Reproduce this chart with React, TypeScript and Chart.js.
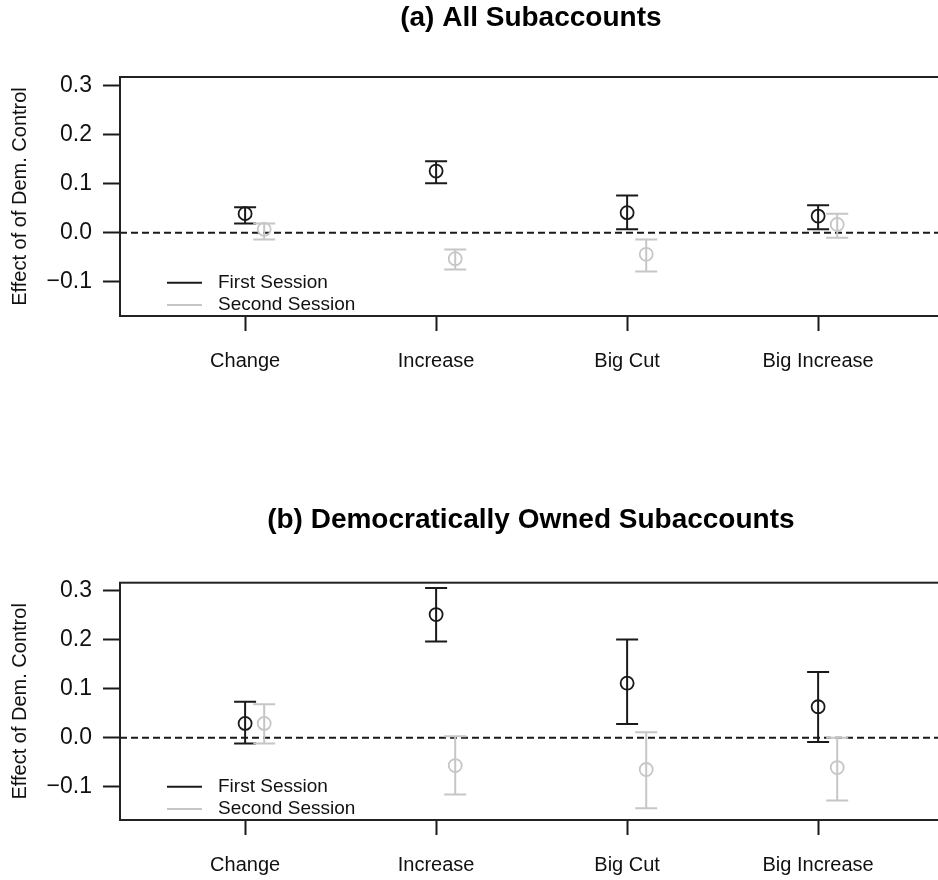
import React, { useEffect, useRef } from "react";
import { Chart, registerables } from "chart.js";

Chart.register(...registerables);

// ---------- data ----------
const categories = ["Change", "Increase", "Big Cut", "Big Increase"];
const yTickValues = [-0.1, 0, 0.1, 0.2, 0.3];
const seriesNames = ["First Session", "Second Session"];

// (a) All Subaccounts
const aFirstEst = [0.039, 0.126, 0.041, 0.034];
const aFirstLo = [0.019, 0.101, 0.007, 0.007];
const aFirstHi = [0.052, 0.146, 0.076, 0.056];
const aSecondEst = [0.007, -0.053, -0.044, 0.017];
const aSecondLo = [-0.014, -0.075, -0.079, -0.01];
const aSecondHi = [0.019, -0.034, -0.014, 0.039];

// (b) Democratically Owned Subaccounts
const bFirstEst = [0.029, 0.251, 0.111, 0.063];
const bFirstLo = [-0.012, 0.196, 0.028, -0.009];
const bFirstHi = [0.073, 0.305, 0.2, 0.134];
const bSecondEst = [0.029, -0.057, -0.065, -0.061];
const bSecondLo = [-0.012, -0.116, -0.144, -0.128];
const bSecondHi = [0.068, 0.003, 0.011, 0.0];

// ---------- styles ----------
const FONT = "'Liberation Sans', Arial, Helvetica, sans-serif";
const DARK = "#1a1a1a";
const LIGHT = "#c6c6c6";
const TEXT = "#111111";
const SECOND_OFFSET = 0.1;
const CANVAS_W = 950;
const CANVAS_H = 440;

const fmt = (v: number) => {
  const s = Number(v).toFixed(1);
  return s.startsWith("-") ? "\u2212" + s.slice(1) : s;
};

const errorBarPlugin = {
  id: "errorBars",
  beforeDatasetsDraw(chart: any) {
    const { ctx, chartArea, scales } = chart;
    const y0 = scales.y.getPixelForValue(0);
    ctx.save();
    ctx.strokeStyle = DARK;
    ctx.lineWidth = 2;
    ctx.setLineDash([7, 4]);
    ctx.beginPath();
    ctx.moveTo(chartArea.left, y0);
    ctx.lineTo(chartArea.right, y0);
    ctx.stroke();
    ctx.restore();
  },
  afterDatasetsDraw(chart: any) {
    const { ctx, chartArea, scales } = chart;
    ctx.save();
    chart.data.datasets.forEach((ds: any, di: number) => {
      const meta = chart.getDatasetMeta(di);
      ctx.strokeStyle = ds.borderColor;
      ctx.lineWidth = 2;
      ctx.setLineDash([]);
      meta.data.forEach((pt: any, i: number) => {
        const x = pt.x;
        const yl = scales.y.getPixelForValue(ds.errLo[i]);
        const yh = scales.y.getPixelForValue(ds.errHi[i]);
        ctx.beginPath();
        ctx.moveTo(x, yl);
        ctx.lineTo(x, yh);
        ctx.moveTo(x - 11, yl);
        ctx.lineTo(x + 11, yl);
        ctx.moveTo(x - 11, yh);
        ctx.lineTo(x + 11, yh);
        ctx.stroke();
      });
    });
    // legend inside the plot (bottom-left)
    chart.data.datasets.forEach((ds: any, di: number) => {
      const ly = chartArea.bottom - 33.3 + di * 22.3;
      ctx.strokeStyle = ds.borderColor;
      ctx.lineWidth = 2;
      ctx.beginPath();
      ctx.moveTo(chartArea.left + 47, ly);
      ctx.lineTo(chartArea.left + 82, ly);
      ctx.stroke();
      ctx.fillStyle = TEXT;
      ctx.font = `19px ${FONT}`;
      ctx.textAlign = "left";
      ctx.textBaseline = "middle";
      ctx.fillText(ds.label, chartArea.left + 98, ly);
    });
    // plot box
    ctx.strokeStyle = "#222222";
    ctx.lineWidth = 2;
    ctx.strokeRect(
      chartArea.left,
      chartArea.top,
      chartArea.right - chartArea.left,
      chartArea.bottom - chartArea.top
    );
    ctx.restore();
  },
};

type PanelCfg = {
  title: string;
  yTitle: string;
  firstEst: number[];
  firstLo: number[];
  firstHi: number[];
  secondEst: number[];
  secondLo: number[];
  secondHi: number[];
  yMin: number;
  yMax: number;
  titlePadTop: number;
  titlePadBottom: number;
  layoutBottom: number;
};

const panelA: PanelCfg = {
  title: "(a) All Subaccounts",
  yTitle: "Effect of of Dem. Control",
  firstEst: aFirstEst,
  firstLo: aFirstLo,
  firstHi: aFirstHi,
  secondEst: aSecondEst,
  secondLo: aSecondLo,
  secondHi: aSecondHi,
  yMin: -0.17,
  yMax: 0.318,
  titlePadTop: 1.8,
  titlePadBottom: 41.6,
  layoutBottom: 64,
};

const panelB: PanelCfg = {
  title: "(b) Democratically Owned Subaccounts",
  yTitle: "Effect of Dem. Control",
  firstEst: bFirstEst,
  firstLo: bFirstLo,
  firstHi: bFirstHi,
  secondEst: bSecondEst,
  secondLo: bSecondLo,
  secondHi: bSecondHi,
  yMin: -0.168,
  yMax: 0.316,
  titlePadTop: 63.5,
  titlePadBottom: 45.6,
  layoutBottom: 0,
};

function Panel({ cfg, top }: { cfg: PanelCfg; top: number }) {
  const ref = useRef<HTMLCanvasElement>(null);
  useEffect(() => {
    if (!ref.current) return;
    const chart = new Chart(ref.current, {
      type: "scatter",
      data: {
        datasets: [
          {
            label: seriesNames[0],
            data: categories.map((_, i) => ({ x: i + 1, y: cfg.firstEst[i] })),
            errLo: cfg.firstLo,
            errHi: cfg.firstHi,
            borderColor: DARK,
            backgroundColor: "rgba(0,0,0,0)",
            pointRadius: 6.5,
            pointBorderWidth: 1.8,
            pointStyle: "circle",
          } as any,
          {
            label: seriesNames[1],
            data: categories.map((_, i) => ({ x: i + 1 + SECOND_OFFSET, y: cfg.secondEst[i] })),
            errLo: cfg.secondLo,
            errHi: cfg.secondHi,
            borderColor: LIGHT,
            backgroundColor: "rgba(0,0,0,0)",
            pointRadius: 6.5,
            pointBorderWidth: 1.8,
            pointStyle: "circle",
          } as any,
        ],
      },
      options: {
        responsive: false,
        animation: false,
        devicePixelRatio: 1,
        layout: { padding: { top: 0, left: 0, right: 4, bottom: cfg.layoutBottom } },
        plugins: {
          legend: { display: false },
          tooltip: { enabled: false },
          title: {
            display: true,
            text: cfg.title,
            fullSize: false,
            color: "#000",
            font: { family: FONT, size: 28, weight: "bold", lineHeight: 1.2 },
            padding: { top: cfg.titlePadTop, bottom: cfg.titlePadBottom },
          },
        },
        scales: {
          x: {
            type: "linear",
            min: 0.345,
            max: 4.647,
            afterBuildTicks: (s: any) => {
              s.ticks = categories.map((_, i) => ({ value: i + 1 }));
            },
            afterFit: (s: any) => {
              s.height = 60;
            },
            border: { display: false },
            grid: {
              drawOnChartArea: false,
              drawTicks: true,
              tickLength: 15,
              tickWidth: 2,
              tickColor: DARK,
            },
            ticks: {
              autoSkip: false,
              maxRotation: 0,
              padding: 18,
              color: TEXT,
              font: { family: FONT, size: 20 },
              callback: (v: any) => categories[Math.round(Number(v)) - 1] ?? "",
            },
          },
          y: {
            type: "linear",
            min: cfg.yMin,
            max: cfg.yMax,
            afterBuildTicks: (s: any) => {
              s.ticks = yTickValues.map((v) => ({ value: v }));
            },
            afterFit: (s: any) => {
              s.width = 120;
            },
            border: { display: false },
            grid: {
              drawOnChartArea: false,
              drawTicks: true,
              tickLength: 17,
              tickWidth: 2,
              tickColor: DARK,
            },
            ticks: {
              padding: 11,
              color: TEXT,
              font: { family: FONT, size: 23 },
              callback: (v: any) => fmt(Number(v)),
            },
            title: {
              display: true,
              text: cfg.yTitle,
              color: TEXT,
              font: { family: FONT, size: 20 },
              padding: { top: 8.5, bottom: 0 },
            },
          },
        },
      } as any,
      plugins: [errorBarPlugin],
    });
    return () => chart.destroy();
  }, [cfg]);
  return (
    <canvas
      ref={ref}
      width={CANVAS_W}
      height={CANVAS_H}
      style={{ position: "absolute", left: 0, top, display: "block" }}
    />
  );
}

export default function App() {
  return (
    <div
      style={{
        position: "absolute",
        left: 0,
        top: 0,
        width: 938,
        height: 880,
        overflow: "hidden",
        background: "#ffffff",
      }}
    >
      <Panel cfg={panelA} top={0} />
      <Panel cfg={panelB} top={440} />
    </div>
  );
}
